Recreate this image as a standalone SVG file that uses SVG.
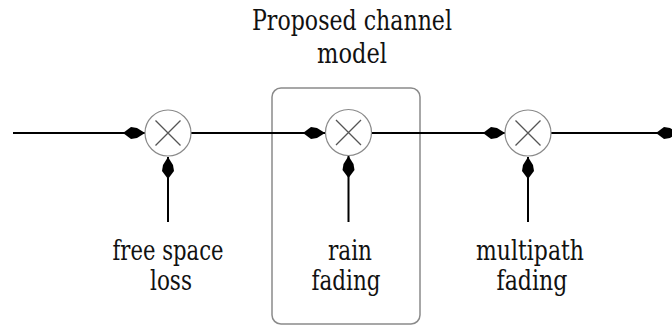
<svg xmlns="http://www.w3.org/2000/svg" width="672" height="327" viewBox="0 0 672 327">
<style>
.t{font-family:"DejaVu Serif",serif;font-size:27px;fill:#111;text-anchor:middle}
.ln{stroke:#000;stroke-width:2;fill:none}
.mix circle{fill:#fff;stroke:#8a8a8a;stroke-width:1.2}
.mix path{stroke:#555;stroke-width:1.3;fill:none}
.box{fill:none;stroke:#8a8a8a;stroke-width:1.5}
</style>
<defs>
<marker id="ah" markerUnits="userSpaceOnUse" markerWidth="26" markerHeight="14" viewBox="-24 -7 26 14" refX="0" refY="0" orient="auto" overflow="visible">
<path d="M0,0 L-8,-5 L-14,-6 L-22,0 L-14,6 L-8,5 Z" fill="#000"/>
</marker>
</defs>
<rect class="box" x="272" y="88" width="148" height="236" rx="9"/>
<g id="title"><text class="t" x="352" y="30" textLength="200" lengthAdjust="spacingAndGlyphs">Proposed channel</text><text class="t" x="352" y="63" textLength="70" lengthAdjust="spacingAndGlyphs">model</text></g>
<g id="connectors">
<line class="ln" x1="13" y1="133" x2="145" y2="133" marker-end="url(#ah)"/>
<line class="ln" x1="191" y1="133" x2="325" y2="133" marker-end="url(#ah)"/>
<line class="ln" x1="372" y1="133" x2="505" y2="133" marker-end="url(#ah)"/>
<line class="ln" x1="551" y1="133" x2="678" y2="133" marker-end="url(#ah)"/>
<line class="ln" x1="168" y1="222" x2="168" y2="157" marker-end="url(#ah)"/>
<line class="ln" x1="348.5" y1="222" x2="348.5" y2="156" marker-end="url(#ah)"/>
<line class="ln" x1="528" y1="222" x2="528" y2="157" marker-end="url(#ah)"/>
</g>
<g id="mixer1" class="mix"><circle cx="168" cy="133" r="23"/><path d="M155.5,120.5 L180.5,145.5 M180.5,120.5 L155.5,145.5"/></g>
<g id="mixer2" class="mix"><circle cx="348.5" cy="132.5" r="23"/><path d="M336,120 L361,145 M361,120 L336,145"/></g>
<g id="mixer3" class="mix"><circle cx="528" cy="133" r="23"/><path d="M515.5,120.5 L540.5,145.5 M540.5,120.5 L515.5,145.5"/></g>
<g id="label1"><text class="t" x="168" y="260" textLength="111" lengthAdjust="spacingAndGlyphs">free space</text><text class="t" x="171" y="290" textLength="42" lengthAdjust="spacingAndGlyphs">loss</text></g>
<g id="label2"><text class="t" x="350" y="260" textLength="44" lengthAdjust="spacingAndGlyphs">rain</text><text class="t" x="346" y="290" textLength="69" lengthAdjust="spacingAndGlyphs">fading</text></g>
<g id="label3"><text class="t" x="530" y="260" textLength="108" lengthAdjust="spacingAndGlyphs">multipath</text><text class="t" x="532" y="290" textLength="71" lengthAdjust="spacingAndGlyphs">fading</text></g>
</svg>
